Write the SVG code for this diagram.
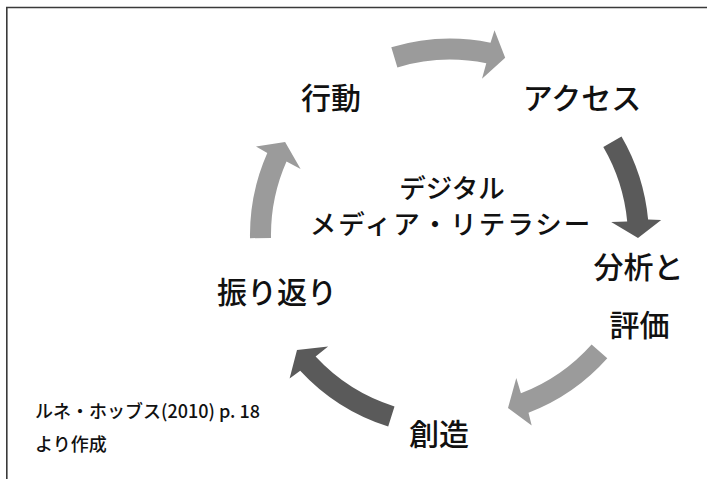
<svg xmlns="http://www.w3.org/2000/svg" width="707" height="479" viewBox="0 0 707 479">
<style>
.lbl{font-family:"Noto Sans CJK JP","Noto Sans",sans-serif;font-size:30px;font-weight:500;fill:#111;text-anchor:middle;dominant-baseline:central}
.ctr{font-family:"Noto Sans CJK JP","Noto Sans",sans-serif;font-size:26.5px;font-weight:500;fill:#111;text-anchor:middle;dominant-baseline:central}
.note{font-family:"Noto Sans CJK JP","Noto Sans",sans-serif;font-size:18px;font-weight:500;fill:#111;dominant-baseline:central}
.light{fill:#9b9b9b}
.dark{fill:#5a5a5a}
.frame{stroke:#3a3a3a;stroke-width:1.6;fill:none}
</style>
<rect width="707" height="479" fill="#fff"/>
<path class="frame" d="M707 7.5 H6.8 V479"/>
<g id="connectors">
<path class="light" d="M391.3 47.3 A203 203 0 0 1 490.5 42.7 L494.5 30.2 L505.2 57.7 L482 78.7 L486.3 63.3 A182 182 0 0 0 397.4 67.4 Z"/>
<path class="dark" d="M621.5 136.4 A203 203 0 0 1 648.1 219.6 L661.2 219.9 L638 238 L611.2 221.9 L627.2 221.5 A182 182 0 0 0 603.3 147 Z"/>
<path class="light" d="M607.3 358.3 A203 203 0 0 1 528.5 412.8 L531.7 425.5 L508 408 L516.3 377.9 L520.9 393.2 A182 182 0 0 0 591.6 344.4 Z"/>
<path class="dark" d="M388.2 426.5 A203 203 0 0 1 300.2 370.7 L289.6 378.4 L297 349.9 L328.1 346.4 L315.6 356.5 A182 182 0 0 0 394.5 406.4 Z"/>
<path class="light" d="M250 238.2 A203 203 0 0 1 267.3 153.1 L256 146.5 L285.1 141.9 L300.6 169.1 L286.5 161.6 A182 182 0 0 0 271 237.9 Z"/>
</g>
<g id="node-action"><text class="lbl" x="331" y="96">行動</text></g>
<g id="node-access"><text class="lbl" x="582" y="96">アクセス</text></g>
<g id="node-analysis"><text class="lbl" x="638.5" y="265">分析と</text><text class="lbl" x="639.5" y="323">評価</text></g>
<g id="node-create"><text class="lbl" x="439" y="432">創造</text></g>
<g id="node-reflect"><text class="lbl" x="277" y="290">振り返り</text></g>
<g id="node-center"><text class="ctr" x="452" y="186">デジタル</text><text class="ctr" letter-spacing="2" x="451" y="222">メディア・リテラシー</text></g>
<g id="note"><text class="note" x="35" y="410">ルネ・ホッブス(2010) p. 18</text><text class="note" x="35" y="443">より作成</text></g>
</svg>
